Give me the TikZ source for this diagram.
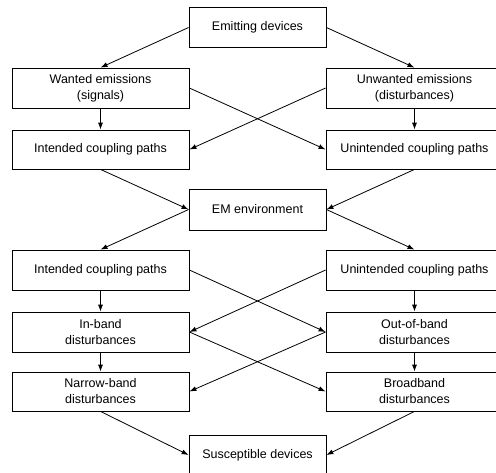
\documentclass[tikz,border=0pt]{standalone}
\usepackage{fontspec}
\setmainfont{Liberation Sans}
\usepackage{tikz}
\usetikzlibrary{arrows.meta}

\begin{document}
\begin{tikzpicture}[x=1pt, y=-1pt,
  every node/.style={font=\fontsize{12.5}{16}\selectfont, align=center},
  box/.style={draw, line width=0.8pt, inner sep=0pt, minimum width=177pt, minimum height=40pt},
  midbox/.style={box, minimum width=137pt},
  >={Latex[length=7pt,width=5pt]}, line width=0.8pt]
\useasboundingbox (0,0) rectangle (496,472);
\node[midbox] (emit) at (257.5,27.5) {Emitting devices};
\node[box] (want) at (100.5,88) {Wanted emissions\\(signals)};
\node[box] (unwant) at (414.5,88) {Unwanted emissions\\(disturbances)};
\node[box, minimum height=39pt] (icpa) at (100.5,149.5) {Intended coupling paths};
\node[box, minimum height=39pt] (ucpa) at (414.5,149.5) {Unintended coupling paths};
\node[midbox, minimum height=41pt] (env) at (257.5,209.5) {EM environment};
\node[box] (icpb) at (100.5,270) {Intended coupling paths};
\node[box] (ucpb) at (414.5,270) {Unintended coupling paths};
\node[box] (inb) at (100.5,332) {In-band\\disturbances};
\node[box] (outb) at (414.5,332) {Out-of-band\\disturbances};
\node[box, minimum height=39pt] (narrow) at (100.5,391.5) {Narrow-band\\disturbances};
\node[box, minimum height=39pt] (broad) at (414.5,391.5) {Broadband\\disturbances};
\node[midbox] (susc) at (257.5,455) {Susceptible devices};
\draw[->] (emit.west) -- (want.north);
\draw[->] (emit.east) -- (unwant.north);
\draw[->] (want) -- (icpa);
\draw[->] (unwant) -- (ucpa);
\draw[->] (want.east) -- (ucpa.west);
\draw[->] (unwant.west) -- (icpa.east);
\draw[->] (icpa.south) -- (env.west);
\draw[->] (ucpa.south) -- (env.east);
\draw[->] (env.west) -- (icpb.north);
\draw[->] (env.east) -- (ucpb.north);
\draw[->] (icpb) -- (inb);
\draw[->] (ucpb) -- (outb);
\draw[->] (icpb.east) -- (outb.west);
\draw[->] (ucpb.west) -- (inb.east);
\draw[->] (inb) -- (narrow);
\draw[->] (outb) -- (broad);
\draw[->] (inb.east) -- (broad.west);
\draw[->] (outb.west) -- (narrow.east);
\draw[->] (narrow.south) -- (susc.west);
\draw[->] (broad.south) -- (susc.east);
\end{tikzpicture}
\end{document}
